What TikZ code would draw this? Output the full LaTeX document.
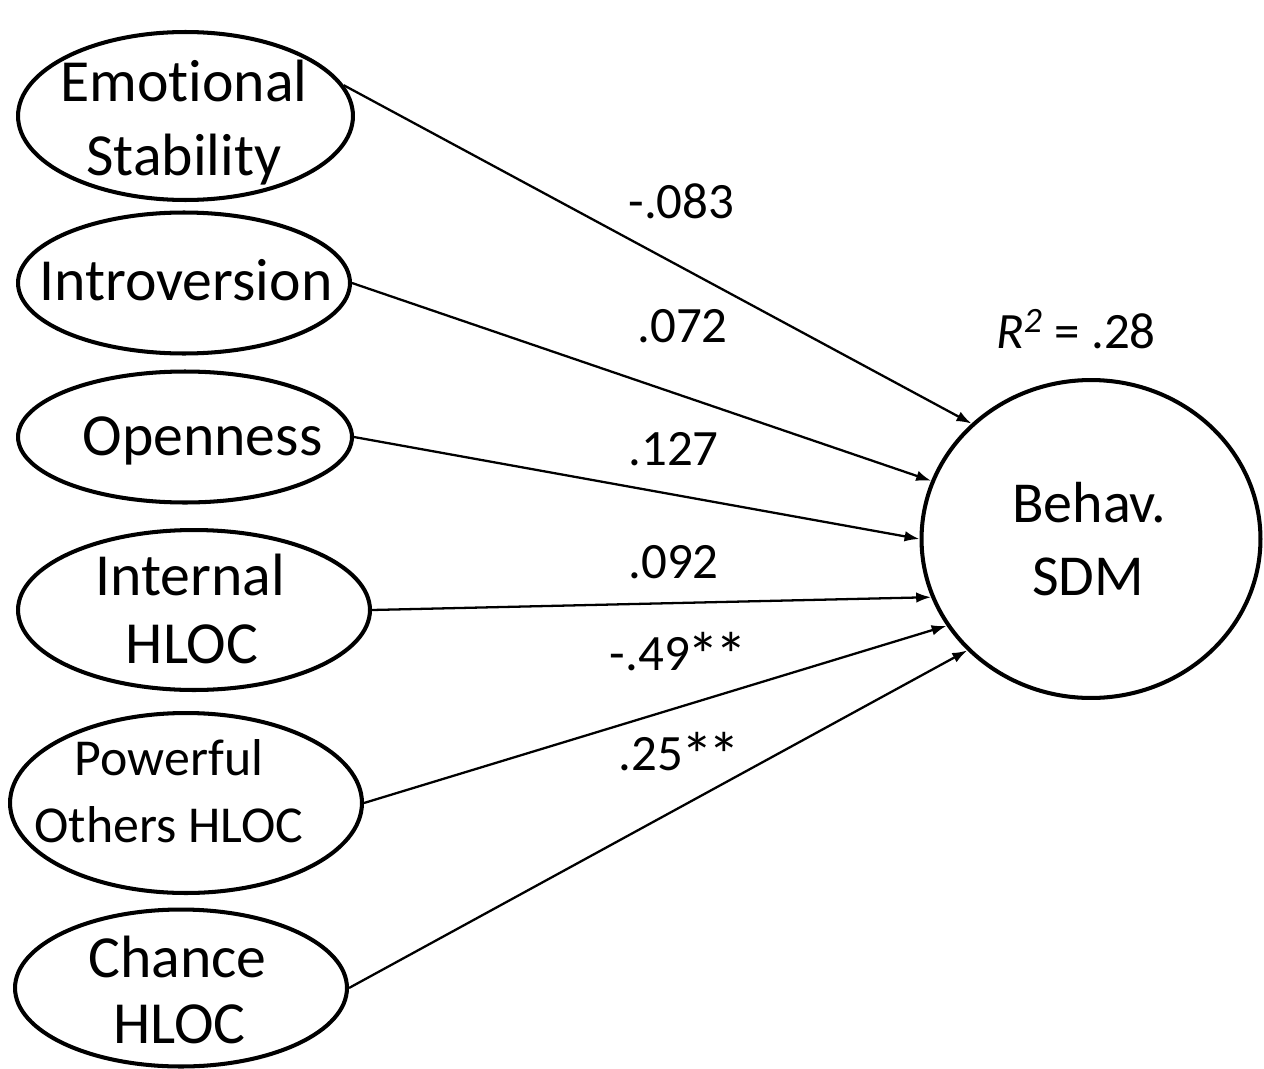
\documentclass[tikz,border=0pt]{standalone}
\usepackage{fontspec}
\setmainfont[RawFeature={-liga;-clig;-calt;-dlig}]{Carlito}
\usetikzlibrary{arrows.meta,shapes.geometric}
\newcommand{\sigstar}{\kern-0.04em\raisebox{-0.15em}{\scalebox{1.25}{*}}\kern-0.04em}

\tikzset{
  construct/.style={ellipse, draw, line width=2.3pt, inner sep=0pt},
  lbl/.style={anchor=base, inner sep=0pt, font=\fontsize{34}{41}\selectfont},
  small/.style={anchor=base, inner sep=0pt, font=\fontsize{29.5}{36}\selectfont},
  coef/.style={anchor=base, inner sep=0pt, font=\fontsize{29}{35}\selectfont},
  effect/.style={-{Latex[length=8.5pt,width=6pt]}, line width=1.3pt}
}

\begin{document}
\begin{tikzpicture}[x=0.02cm, y=-0.02cm]
			%%%%% START %%%%%
			\useasboundingbox (0, 0) rectangle (1264, 1068);
			
			% predictors
			\node[construct, minimum width=6.70cm, minimum height=3.36cm] (es) at (185.5, 116) {};
			\node[lbl] (es-a) at (184, 102) {Emotional};
			\node[lbl] (es-b) at (184, 175) {Stability};
			
			\node[construct, minimum width=6.64cm, minimum height=2.82cm] (intro) at (184, 283) {};
			\node[lbl] (intro-a) at (186, 300) {Introversion};
			
			\node[construct, minimum width=6.68cm, minimum height=2.62cm] (open) at (185, 437) {};
			\node[lbl] (open-a) at (202.5, 455) {Openness};
			
			\node[construct, minimum width=7.04cm, minimum height=3.20cm] (ihloc) at (194, 610) {};
			\node[lbl] (ihloc-a) at (190, 595) {Internal};
			\node[lbl] (ihloc-b) at (192, 663) {HLOC};
			
			\node[construct, minimum width=7.04cm, minimum height=3.60cm] (phloc) at (186, 803) {};
			\node[small] (phloc-a) at (169, 775) {Powerful};
			\node[small] (phloc-b) at (169, 842) {Others HLOC};
			
			\node[construct, minimum width=6.64cm, minimum height=3.14cm] (chloc) at (181, 988) {};
			\node[lbl] (chloc-a) at (177.5, 977) {Chance};
			\node[lbl] (chloc-b) at (179.5, 1043) {HLOC};
			
			% outcome
			\node[construct, minimum width=6.78cm, minimum height=6.36cm] (sdm) at (1091, 539) {};
			\node[lbl, font=\fontsize{33}{40}\selectfont] (sdm-a) at (1089, 522) {Behav.};
			\node[lbl, font=\fontsize{33}{40}\selectfont] (sdm-b) at (1088, 595) {SDM};
			\node[coef] (rsq) at (1076, 348) {\textit{R}\textsuperscript{\textit{2}} = .28};
			
			% paths
			\draw[effect] (es.11) -- (sdm.136.5);
			\draw[effect] (intro.east) -- (sdm.160.3);
			\draw[effect] (open.east) -- (sdm.180);
			\draw[effect] (ihloc.east) -- (sdm.200);
			\draw[effect] (phloc.east) -- (sdm.211.9);
			\draw[effect] (chloc.east) -- (sdm.222.8);
			
			\node[coef] (b-es) at (681.5, 218) {-.083};
			\node[coef] (b-intro) at (682.5, 342) {.072};
			\node[coef] (b-open) at (673.5, 465) {.127};
			\node[coef] (b-ihloc) at (673.5, 578) {.092};
			\node[coef] (b-phloc) at (677.5, 670) {-.49\sigstar\sigstar};
			\node[coef] (b-chloc) at (678.5, 770) {.25\sigstar\sigstar};
			
			%%%%% END %%%%%
\end{tikzpicture}
\end{document}
